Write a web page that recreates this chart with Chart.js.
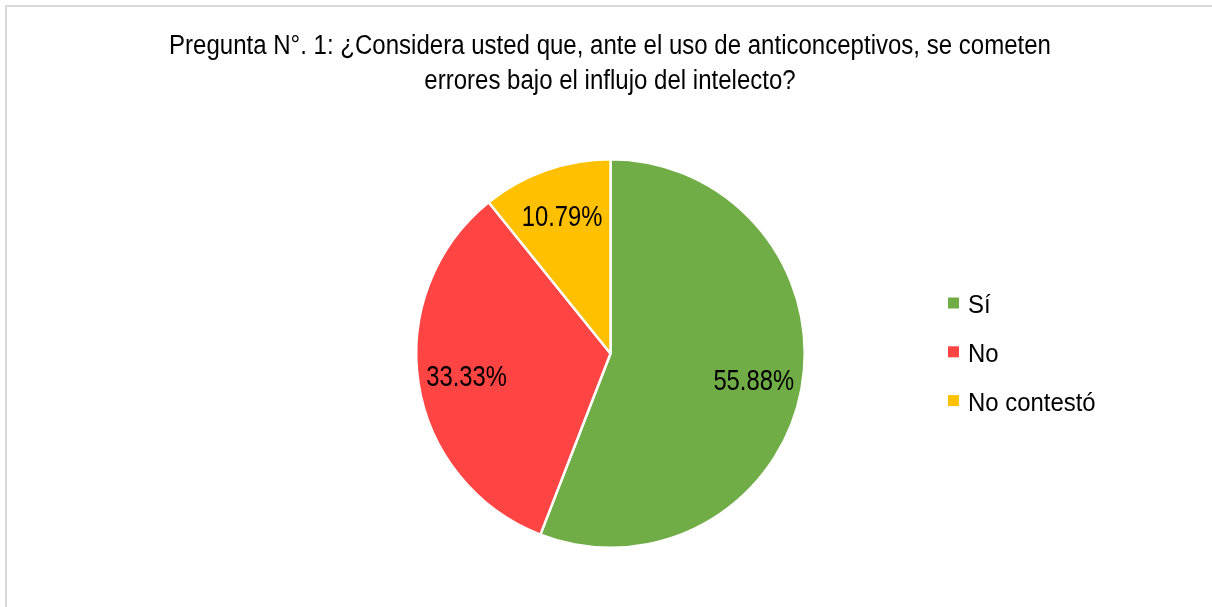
<!DOCTYPE html>
<html lang="es">
<head>
<meta charset="utf-8">
<title>Pregunta N°. 1</title>
<script src="https://cdn.jsdelivr.net/npm/chart.js@4/dist/chart.umd.min.js"></script>
<style>
  html, body { margin: 0; padding: 0; background: #ffffff; }
  #wrap { position: relative; width: 1212px; height: 607px; overflow: hidden; }
  canvas { display: block; }
</style>
</head>
<body>
<div id="wrap"><canvas id="chart" width="1212" height="607"></canvas></div>
<script>
// Survey answers (percent of respondents)
const categories = ['Sí', 'No', 'No contestó'];
const percentages = [55.88, 33.33, 10.79];
const sliceColors = ['#70AD47', '#FF4444', '#FFC000'];
const titleLines = [
  'Pregunta N°. 1: ¿Considera usted que, ante el uso de anticonceptivos, se cometen',
  'errores bajo el influjo del intelecto?'
];

const FONT = '"Liberation Sans", Arial, Helvetica, sans-serif';

// Draw text squeezed horizontally to mimic a narrow face
function narrowText(ctx, text, x, y, size, sx, align) {
  ctx.save();
  ctx.font = size + 'px ' + FONT;
  const w = ctx.measureText(text).width * sx;
  let left = x;
  if (align === 'center') left = x - w / 2;
  ctx.translate(left, y);
  ctx.scale(sx, 1);
  ctx.textAlign = 'left';
  ctx.textBaseline = 'alphabetic';
  ctx.fillText(text, 0, 0);
  ctx.restore();
}

const decorations = {
  id: 'decorations',
  beforeDraw(chart) {
    const ctx = chart.ctx;
    ctx.save();
    ctx.fillStyle = '#ffffff';
    ctx.fillRect(0, 0, chart.width, chart.height);
    // frame of the chart object
    ctx.strokeStyle = '#d9d9d9';
    ctx.lineWidth = 2;
    ctx.beginPath();
    ctx.moveTo(6, chart.height + 2);
    ctx.lineTo(6, 6);
    ctx.lineTo(chart.width + 2, 6);
    ctx.stroke();
    ctx.restore();
  },
  afterDraw(chart) {
    const ctx = chart.ctx;
    ctx.save();
    ctx.fillStyle = '#000000';

    // title
    const cx = 610;
    narrowText(ctx, titleLines[0], cx, 54, 27, 0.89, 'center');
    narrowText(ctx, titleLines[1], cx, 89, 27, 0.89, 'center');

    // value labels inside slices
    const meta = chart.getDatasetMeta(0);
    const values = chart.data.datasets[0].data;
    meta.data.forEach((arc, i) => {
      const p = arc.getProps(['x', 'y', 'startAngle', 'endAngle', 'outerRadius'], true);
      const mid = (p.startAngle + p.endAngle) / 2;
      const r = p.outerRadius * 0.75;
      const lx = p.x + Math.cos(mid) * r;
      const ly = p.y + Math.sin(mid) * r;
      narrowText(ctx, values[i].toFixed(2) + '%', lx, ly + 10, 29, 0.82, 'center');
    });

    // legend
    const colors = chart.data.datasets[0].backgroundColor;
    chart.data.labels.forEach((label, i) => {
      const cy = 303 + i * 48.8;
      ctx.fillStyle = colors[i];
      ctx.fillRect(948, cy - 5.5, 11, 11);
      ctx.fillStyle = '#000000';
      narrowText(ctx, label, 968, cy + 10, 26, 0.92, 'left');
    });
    ctx.restore();
  }
};

new Chart(document.getElementById('chart'), {
  type: 'pie',
  data: {
    labels: categories,
    datasets: [{
      data: percentages,
      backgroundColor: sliceColors,
      borderColor: '#ffffff',
      borderWidth: 2.5
    }]
  },
  options: {
    responsive: false,
    animation: false,
    rotation: 0,
    layout: { padding: { top: 158, bottom: 58, left: 9, right: 0 } },
    plugins: {
      legend: { display: false },
      title: { display: false },
      tooltip: { enabled: false }
    }
  },
  plugins: [decorations]
});
</script>
</body>
</html>
